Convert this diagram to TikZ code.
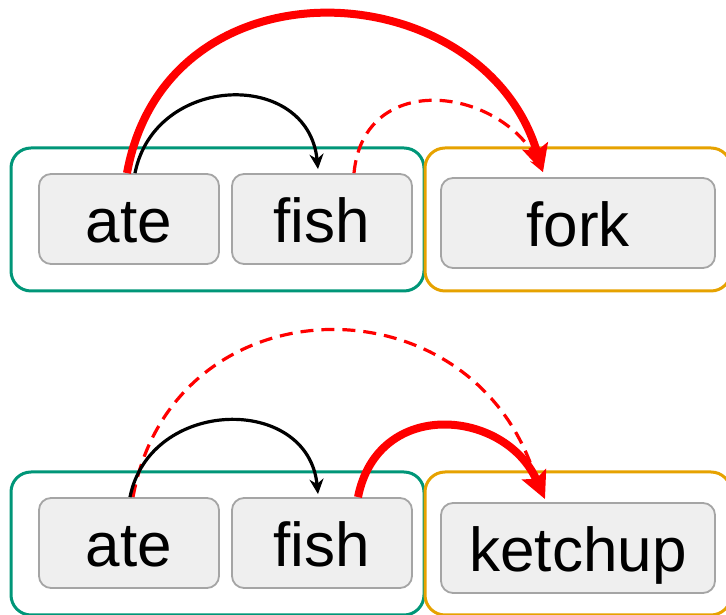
\documentclass[tikz,border=0pt]{standalone}
\usepackage{fontspec}
\setmainfont{Liberation Sans}
\usetikzlibrary{arrows.meta}
\usepackage{xcolor}

\definecolor{grpgreen}{RGB}{0,150,120}
\definecolor{grporange}{RGB}{230,162,0}
\definecolor{wordfill}{RGB}{239,239,239}
\definecolor{wordline}{RGB}{165,165,165}

\tikzset{
    group/.style={draw, line width=3pt, rounded corners=20pt, minimum height=143pt, inner sep=0pt},
    word/.style={draw=wordline, fill=wordfill, line width=1.8pt, rounded corners=12pt,
        minimum height=90pt, inner sep=0pt, text height=48pt, text depth=0pt,
        font=\fontsize{62}{70}\selectfont},
    dep/.style={line width=3.2pt, -{Stealth[length=15pt,width=14pt]}},
    wrong/.style={red, line width=3.2pt, dash pattern=on 13pt off 8pt, -{Stealth[length=15pt,width=14pt]}},
    chosen/.style={red, line width=8pt, -{Stealth[length=27pt,width=26pt,inset=5pt]}}
}

\begin{document}
\begin{tikzpicture}[x=1pt, y=1pt]
        \clip (0,0) rectangle (726,615);
        % attach to the noun
        \node[group, draw=grpgreen, minimum width=413pt] (left1) at (217.5,395.5) {};
        \node[group, draw=grporange, minimum width=306pt] (right1) at (578,395.5) {};
        \node[word, minimum width=180pt] (ate1) at (129,396) {ate};
        \node[word, minimum width=180pt] (fish1) at (322,396) {fish};
        \node[word, minimum width=274pt] (fork) at (578,392) {fork};
        \draw[wrong] ([xshift=32pt]fish1.north) .. controls +(10,105) and +(-40,85) .. ([xshift=-35pt,yshift=5pt]fork.north);
        \draw[dep] ([xshift=6pt]ate1.north) .. controls +(20,100) and +(-10,100) .. ([xshift=-4pt,yshift=4pt]fish1.north);
        \draw[chosen] ([xshift=-2pt]ate1.north) .. controls +(40,220) and +(-60,200) .. ([xshift=-35pt,yshift=5pt]fork.north);
        % attach to the verb
        \node[group, draw=grpgreen, minimum width=413pt] (left2) at (217.5,71.5) {};
        \node[group, draw=grporange, minimum width=306pt] (right2) at (578,71.5) {};
        \node[word, minimum width=180pt] (ate2) at (129,72) {ate};
        \node[word, minimum width=180pt] (fish2) at (322,72) {fish};
        \node[word, minimum width=274pt] (ketchup) at (578,67) {ketchup};
        \draw[wrong] ([xshift=4pt]ate2.north) .. controls +(40,220) and +(-60,220) .. ([xshift=-38pt,yshift=8pt]ketchup.north);
        \draw[dep] ([xshift=1pt]ate2.north) .. controls +(20,100) and +(-10,100) .. ([xshift=-4pt,yshift=3pt]fish2.north);
        \draw[chosen] ([xshift=36pt]fish2.north) .. controls +(20,100) and +(-40,90) .. ([xshift=-33pt,yshift=3pt]ketchup.north);
    \end{tikzpicture}
\end{document}
